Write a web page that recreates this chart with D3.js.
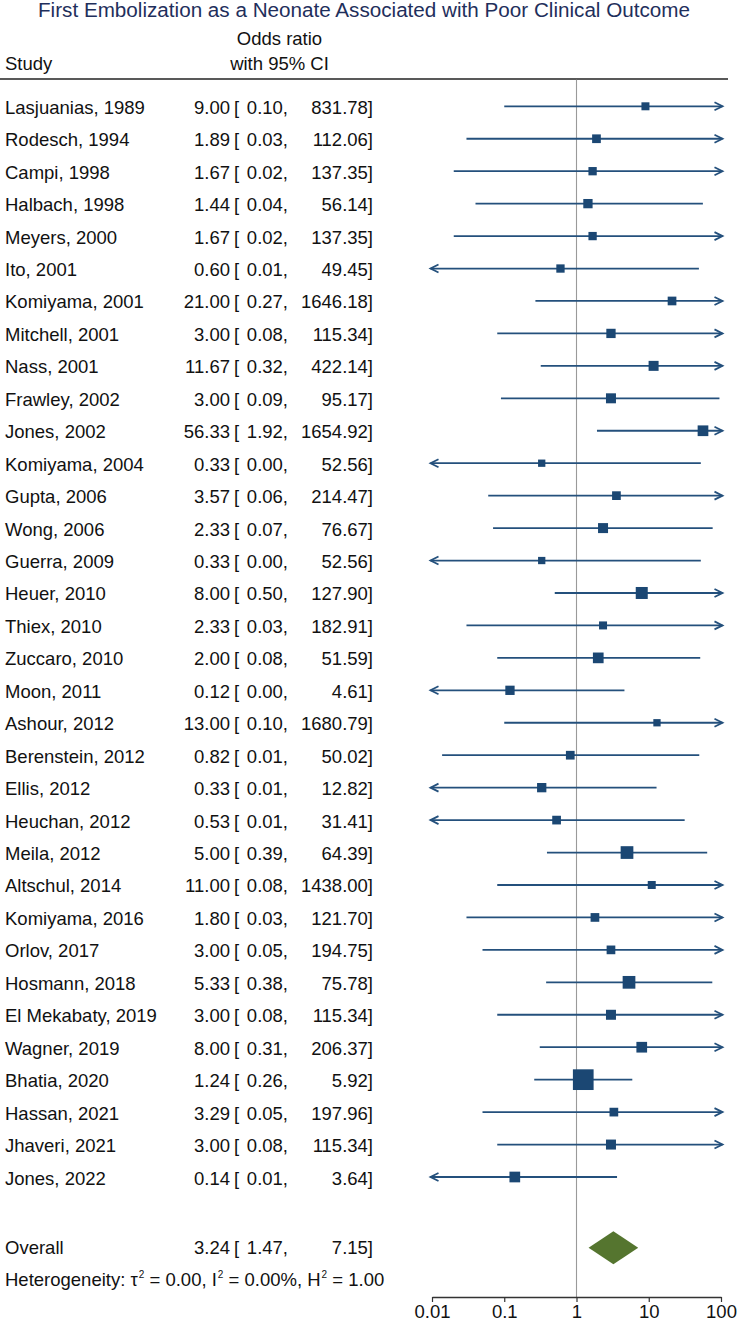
<!DOCTYPE html>
<html><head><meta charset="utf-8">
<script src="https://cdn.jsdelivr.net/npm/d3@7"></script>
<style>
html,body{margin:0;padding:0;background:#fff;}
svg{display:block;font-family:"Liberation Sans",Arial,Helvetica,sans-serif;}
</style></head>
<body>
<svg id="chart" width="737" height="1323"></svg>
<script>
const studies = ["Lasjuanias, 1989","Rodesch, 1994","Campi, 1998","Halbach, 1998","Meyers, 2000","Ito, 2001","Komiyama, 2001","Mitchell, 2001","Nass, 2001","Frawley, 2002","Jones, 2002","Komiyama, 2004","Gupta, 2006","Wong, 2006","Guerra, 2009","Heuer, 2010","Thiex, 2010","Zuccaro, 2010","Moon, 2011","Ashour, 2012","Berenstein, 2012","Ellis, 2012","Heuchan, 2012","Meila, 2012","Altschul, 2014","Komiyama, 2016","Orlov, 2017","Hosmann, 2018","El Mekabaty, 2019","Wagner, 2019","Bhatia, 2020","Hassan, 2021","Jhaveri, 2021","Jones, 2022"];
const oddsRatio = [9.00,1.89,1.67,1.44,1.67,0.60,21.00,3.00,11.67,3.00,56.33,0.33,3.57,2.33,0.33,8.00,2.33,2.00,0.12,13.00,0.82,0.33,0.53,5.00,11.00,1.80,3.00,5.33,3.00,8.00,1.24,3.29,3.00,0.14];
const ciLow = [0.10,0.03,0.02,0.04,0.02,0.007,0.27,0.08,0.32,0.09,1.92,0.002,0.06,0.07,0.002,0.50,0.03,0.08,0.003,0.10,0.0138,0.0085,0.009,0.39,0.08,0.03,0.05,0.38,0.08,0.31,0.26,0.05,0.08,0.005];
const ciHigh = [831.78,112.06,137.35,56.14,137.35,49.45,1646.18,115.34,422.14,95.17,1654.92,52.56,214.47,76.67,52.56,127.90,182.91,51.59,4.61,1680.79,50.02,12.82,31.41,64.39,1438.00,121.70,194.75,75.78,115.34,206.37,5.92,197.96,115.34,3.64];
const weights = [1.90,2.25,2.05,2.57,2.05,2.05,2.25,2.57,2.97,2.97,3.40,1.58,2.25,2.97,1.58,4.28,1.90,3.40,2.57,1.58,2.25,2.57,2.25,4.80,1.90,2.25,2.25,4.80,2.97,3.40,12.74,2.25,2.97,3.40];
const overall = {label:"Overall", or:3.24, low:1.47, high:7.15};
const axisTicks = [0.01,0.1,1,10,100];
const tickLabels = ["0.01","0.1","1","10","100"];
const titleText = "First Embolization as a Neonate Associated with Poor Clinical Outcome";

const svg = d3.select("#chart");
const markColor = "#1b4773", lineColor = "#24507c", diamondColor = "#55752f";
const fs = 18.5;

const x = d3.scaleLog().domain([0.01,100]).range([432,721]);
const y = d3.scaleLinear().domain([0, studies.length-1]).range([106.3, 1177]);
const size = d3.scaleSqrt().domain([0, d3.max(weights)]).range([0, 20.7]);
const fmt = d3.format(".2f");

// title
svg.append("text").attr("x",38).attr("y",16.5).attr("font-size",19.5).attr("fill","#1f2f5c")
  .attr("textLength",652).attr("lengthAdjust","spacingAndGlyphs").text(titleText);

// headers
svg.append("text").attr("x",279.5).attr("y",44.5).attr("text-anchor","middle").attr("font-size",fs).attr("fill","#111").text("Odds ratio");
svg.append("text").attr("x",279.5).attr("y",70).attr("text-anchor","middle").attr("font-size",fs).attr("fill","#111").text("with 95% CI");
svg.append("text").attr("x",5).attr("y",70).attr("font-size",fs).attr("fill","#111").text("Study");
svg.append("line").attr("x1",0).attr("x2",728).attr("y1",79).attr("y2",79).attr("stroke","#222").attr("stroke-width",1.6);

// reference line
svg.append("line").attr("x1",x(1)).attr("x2",x(1)).attr("y1",79.8).attr("y2",1297).attr("stroke","#9a9a9a").attr("stroke-width",1.1);

const rows = studies.map((s,i)=>({name:s, or:oddsRatio[i], low:ciLow[i], high:ciHigh[i], w:weights[i], i}));

function textRow(g, d, yy){
  g.append("text").attr("x",5).attr("y",yy).attr("font-size",fs).attr("fill","#111").text(d.name);
  g.append("text").attr("x",230).attr("y",yy).attr("text-anchor","end").attr("font-size",fs).attr("fill","#111").text(fmt(d.or));
  g.append("text").attr("x",234).attr("y",yy).attr("font-size",fs).attr("fill","#111").text("[");
  g.append("text").attr("x",288).attr("y",yy).attr("text-anchor","end").attr("font-size",fs).attr("fill","#111").text(fmt(d.low)+",");
  g.append("text").attr("x",373).attr("y",yy).attr("text-anchor","end").attr("font-size",fs).attr("fill","#111").text(fmt(d.high)+"]");
}

const [dmin, dmax] = x.domain();
rows.forEach(d=>{
  const g = svg.append("g");
  const yy = y(d.i);
  textRow(g, d, yy+7.5);
  const leftArrow = d.low < dmin, rightArrow = d.high > dmax;
  const xl = leftArrow ? x(dmin)-1.5 : x(d.low);
  const xr = rightArrow ? x(dmax)+1.5 : x(d.high);
  g.append("line").attr("x1",xl).attr("x2",xr).attr("y1",yy).attr("y2",yy).attr("stroke",lineColor).attr("stroke-width",1.8);
  if(rightArrow){
    g.append("path").attr("d",`M${xr-8},${yy-4}L${xr},${yy}L${xr-8},${yy+4}`).attr("fill","none").attr("stroke",lineColor).attr("stroke-width",1.8);
  }
  if(leftArrow){
    g.append("path").attr("d",`M${xl+8},${yy-4}L${xl},${yy}L${xl+8},${yy+4}`).attr("fill","none").attr("stroke",lineColor).attr("stroke-width",1.8);
  }
  const s = size(d.w);
  g.append("rect").attr("x",x(d.or)-s/2).attr("y",yy-s/2).attr("width",s).attr("height",s).attr("fill",markColor);
});

// overall
const oy = 1247.7;
{
  const g = svg.append("g");
  textRow(g, {name:overall.label, or:overall.or, low:overall.low, high:overall.high}, oy+6.5);
  g.append("path").attr("d",`M${x(overall.low)},${oy}L${x(overall.or)},${oy-16.5}L${x(overall.high)},${oy}L${x(overall.or)},${oy+16.5}Z`).attr("fill",diamondColor);
}

// heterogeneity
const ht = svg.append("text").attr("x",5).attr("y",1286).attr("font-size",fs).attr("fill","#111");
const parts = [["Heterogeneity: τ",false],["2",true],[" = 0.00, I",false],["2",true],[" = 0.00%, H",false],["2",true],[" = 1.00",false]];
parts.forEach(([t,sup],k)=>{
  const ts = ht.append("tspan").text(t);
  if(sup) ts.attr("font-size",10).attr("dy",-8).attr("dx",1);
  else if(k>0) ts.attr("dy",8);
});

// axis
const axisG = svg.append("g").attr("transform","translate(0,1297)");
axisG.call(d3.axisBottom(x).tickValues(axisTicks).tickFormat((d,i)=>tickLabels[i]).tickSize(5).tickPadding(3).tickSizeOuter(0));
axisG.select(".domain").attr("stroke","#333").attr("stroke-width",1.3);
axisG.selectAll(".tick line").attr("stroke","#333").attr("stroke-width",1.2);
axisG.selectAll(".tick text").attr("font-size",fs).attr("fill","#111").attr("font-family","Liberation Sans, Arial, sans-serif").attr("dy","0.71em");
</script>
</body></html>
